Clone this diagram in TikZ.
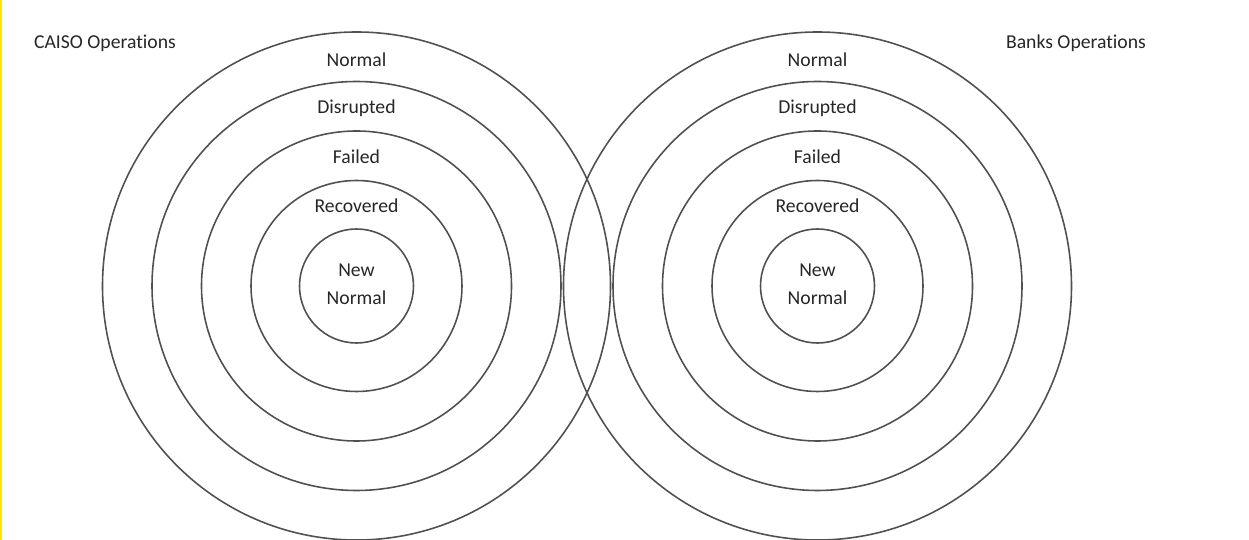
\documentclass[tikz,border=0pt]{standalone}
\usepackage{fontspec}
\setmainfont{Carlito}[Ligatures={NoCommon}]
\usepackage{tikz}
\usetikzlibrary{positioning}
\definecolor{ring}{HTML}{505050}
\definecolor{schrift}{HTML}{262626}
\definecolor{rand}{HTML}{FFE600}
\tikzset{
  kreis/.style={ring,line width=0.9pt},
  zone/.style={schrift,inner sep=1pt,font=\fontsize{11.2}{16}\selectfont,align=center},
  titel/.style={schrift,inner sep=1pt,font=\fontsize{11.2}{16}\selectfont},
}

\begin{document}
\begin{tikzpicture}[x=0.02cm,y=-0.02cm]
  \useasboundingbox (0,0) rectangle (1249,540);
  % --- Rand ---
  \fill[rand] (0,0) rectangle (2.5,540);
  % --- Mittelpunkte ---
  \coordinate (caiso) at (356.5,286);
  \coordinate (banks) at (817.5,286);
  % --- Kreise ---
  \foreach \r in {254,204.5,155,105.5,57}{
    \draw[kreis] (caiso) circle[radius=\r*0.02cm];
    \draw[kreis] (banks) circle[radius=\r*0.02cm];
  }
  % --- Titel ---
  \node[titel,anchor=west] (caisoT) at (32,43) {CAISO Operations};
  \node[titel,anchor=west] (banksT) at (1004,43) {Banks Operations};
  % --- Zonen links ---
  \node[zone] (cNormal)  at (356.5,60)  {Normal};
  \node[zone] (cDisr)    at (356.5,108) {Disrupted};
  \node[zone] (cFailed)  at (356.5,157) {Failed};
  \node[zone] (cRecov)   at (356.5,206) {Recovered};
  \node[zone] (cNew)     at (356.5,284) {New\\Normal};
  % --- Zonen rechts ---
  \node[zone] (bNormal)  at (817.5,60)  {Normal};
  \node[zone] (bDisr)    at (817.5,108) {Disrupted};
  \node[zone] (bFailed)  at (817.5,157) {Failed};
  \node[zone] (bRecov)   at (817.5,206) {Recovered};
  \node[zone] (bNew)     at (817.5,284) {New\\Normal};
\end{tikzpicture}
\end{document}
